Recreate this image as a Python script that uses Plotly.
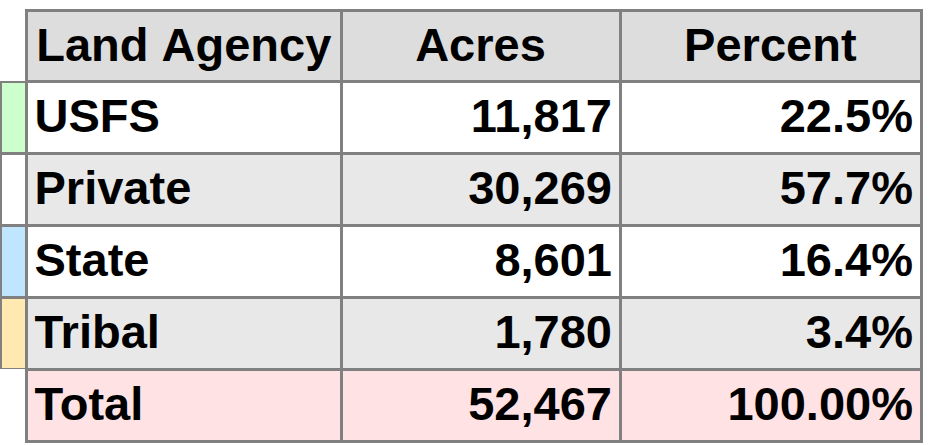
import plotly.graph_objects as go

# ---- data ----
header_labels = ["", "Land Agency", "Acres", "Percent"]
agencies = ["USFS", "Private", "State", "Tribal", "Total"]
acres = [11817, 30269, 8601, 1780, 52467]
percents = [22.5, 57.7, 16.4, 3.4, 100.00]
percent_decimals = [1, 1, 1, 1, 2]
swatch_colors = ["#CCFFCC", "#FFFFFF", "#BFE5FF", "#FFE9B0", "#FFFFFF"]
row_fills = ["#FFFFFF", "#E8E8E8", "#FFFFFF", "#E8E8E8", "#FFE2E3"]


def bold(s):
    # markup keeps words together (no-break space) and lets plotly centre the line box
    return "<b>" + s.replace(" ", "\u00a0") + "</b>" if s else ""


acre_labels = [bold(f"{a:,}") for a in acres]
percent_labels = [bold(f"{p:.{d}f}%") for p, d in zip(percents, percent_decimals)]
agency_labels = [bold(a) for a in agencies]

GRID = "#808080"
NONE = "rgba(0,0,0,0)"
FONT = dict(family="Liberation Sans, Arial, sans-serif", size=47, color="black")

n = len(agencies)
swatch_lines = [GRID] * (n - 1) + [NONE]

fig = go.Figure(
    go.Table(
        domain=dict(x=[0, 921 / 932], y=[0, 1]),
        columnwidth=[26.5, 314.5, 279, 301],
        header=dict(
            values=[bold(h) for h in header_labels],
            fill=dict(color=["#FFFFFF", "#DDDDDD", "#DDDDDD", "#DDDDDD"]),
            line=dict(color=[NONE, GRID, GRID, GRID], width=3),
            font=FONT,
            align="center",
            height=71,
        ),
        cells=dict(
            values=[[""] * n, agency_labels, acre_labels, percent_labels],
            fill=dict(color=[swatch_colors, row_fills, row_fills, row_fills]),
            line=dict(color=[swatch_lines, [GRID] * n, [GRID] * n, [GRID] * n], width=3),
            font=FONT,
            align=["left", "left", "right", "right"],
            height=72,
        ),
    )
)

fig.update_layout(
    width=932,
    height=445,
    margin=dict(l=0, r=0, t=10, b=0),
    paper_bgcolor="white",
    plot_bgcolor="white",
)

fig.write_html(
    "out.html",
    config={"displayModeBar": False},
    post_script="document.body.style.margin='0';",
)
